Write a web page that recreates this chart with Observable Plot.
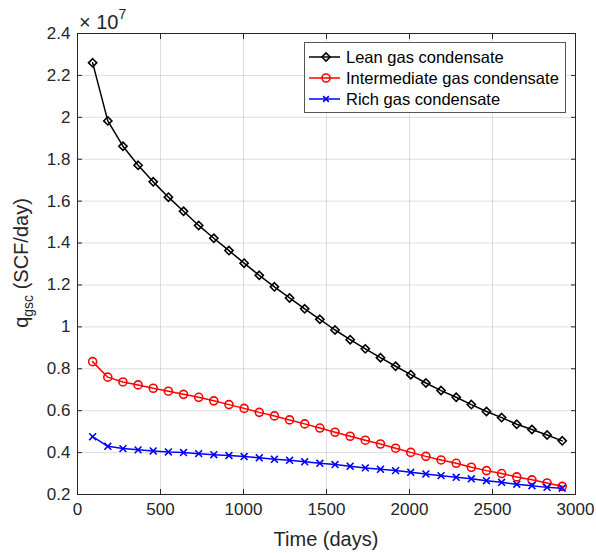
<!DOCTYPE html>
<html><head><meta charset="utf-8">
<script src="https://cdn.jsdelivr.net/npm/d3@7"></script>
<script src="https://cdn.jsdelivr.net/npm/@observablehq/plot@0.6"></script>
<style>
body{margin:0;background:#fff;}
#wrap{position:relative;width:596px;height:553px;font-family:"Liberation Sans",Arial,sans-serif;}
#wrap svg{display:block;}
#overlay{position:absolute;left:0;top:0;pointer-events:none;}
</style></head>
<body><div id="wrap"></div>
<script>
const days = [91.25,182.5,273.75,365,456.25,547.5,638.75,730,821.25,912.5,1003.75,1095,1186.25,1277.5,1368.75,1460,1551.25,1642.5,1733.75,1825,1916.25,2007.5,2098.75,2190,2281.25,2372.5,2463.75,2555,2646.25,2737.5,2828.75,2920];
// q_gsc in units of 1e7 SCF/day
const lean = [2.260,1.983,1.862,1.771,1.692,1.619,1.552,1.484,1.423,1.364,1.304,1.246,1.191,1.138,1.086,1.036,0.985,0.939,0.895,0.853,0.812,0.772,0.732,0.696,0.664,0.629,0.596,0.567,0.535,0.510,0.484,0.456];
const intermediate = [0.834,0.760,0.737,0.723,0.707,0.693,0.678,0.664,0.647,0.629,0.611,0.592,0.575,0.556,0.537,0.517,0.497,0.478,0.459,0.441,0.421,0.401,0.382,0.365,0.349,0.330,0.314,0.300,0.284,0.270,0.255,0.239];
const rich = [0.476,0.430,0.419,0.413,0.408,0.403,0.400,0.395,0.390,0.386,0.381,0.375,0.368,0.363,0.356,0.349,0.343,0.335,0.327,0.320,0.314,0.306,0.298,0.290,0.282,0.275,0.266,0.258,0.249,0.242,0.234,0.230];
const seriesNames = ["Lean gas condensate","Intermediate gas condensate","Rich gas condensate"];
const seriesColors = ["#000000","#ff0000","#0000ff"];
const seriesSymbols = ["diamond2","circle","times"];
const xTicks = [0,500,1000,1500,2000,2500,3000];
const yTicks = [0.2,0.4,0.6,0.8,1,1.2,1.4,1.6,1.8,2,2.2,2.4];
const xLabel = "Time (days)";
const yLabelMain = "q", yLabelSub = "gsc", yLabelRest = " (SCF/day)";
const exponent = "7";

const allSeries = [lean, intermediate, rich];
const rows = allSeries.flatMap((vals, i) => vals.map((v, j) => ({day: days[j], q: v, s: seriesNames[i]})));

const axisColor = "#262626";
const marks = [
  Plot.gridX(xTicks, {stroke: axisColor, strokeOpacity: 0.15}),
  Plot.gridY(yTicks, {stroke: axisColor, strokeOpacity: 0.15}),
];
const symSizes = [3.7, 4, 3.2];
seriesNames.forEach((name, i) => {
  const d = rows.filter(r => r.s === name);
  marks.push(Plot.line(d, {x: "day", y: "q", stroke: seriesColors[i], strokeWidth: 1.5}));
  marks.push(Plot.dot(d, {x: "day", y: "q", stroke: seriesColors[i], fill: "none", symbol: seriesSymbols[i], r: symSizes[i], strokeWidth: 1.6}));
});
marks.push(
  Plot.frame({stroke: axisColor}),
  Plot.axisX(xTicks, {anchor: "bottom", tickSize: 0, tickPadding: 8, label: null, tickFormat: d => String(d), fill: axisColor}),
  Plot.axisX(xTicks, {anchor: "bottom", tickSize: -5, label: null, tickFormat: () => "", stroke: axisColor}),
  Plot.axisX(xTicks, {anchor: "top", tickSize: -5, label: null, tickFormat: () => "", stroke: axisColor}),
  Plot.axisY(yTicks, {anchor: "left", tickSize: 0, tickPadding: 7, label: null, tickFormat: d => String(+d.toFixed(1)), fill: axisColor}),
  Plot.axisY(yTicks, {anchor: "left", tickSize: -5, label: null, tickFormat: () => "", stroke: axisColor}),
  Plot.axisY(yTicks, {anchor: "right", tickSize: -5, label: null, tickFormat: () => "", stroke: axisColor})
);

const chart = Plot.plot({
  width: 596, height: 553,
  marginLeft: 77, marginRight: 21, marginTop: 33, marginBottom: 59,
  style: {fontFamily: '"Liberation Sans", Arial, sans-serif', fontSize: "17px", background: "white", color: axisColor},
  x: {domain: [0, 3000]},
  y: {domain: [0.2, 2.4]},
  marks
});
const wrap = document.getElementById("wrap");
wrap.appendChild(chart);

// overlay: labels, exponent, legend
const ov = d3.select(wrap).append("svg").attr("id", "overlay").attr("width", 596).attr("height", 553)
  .style("font-family", '"Liberation Sans", Arial, sans-serif').attr("fill", axisColor);

ov.append("text").attr("x", 326).attr("y", 546).attr("text-anchor", "middle").style("font-size", "20px").text(xLabel);

const yl = ov.append("text").attr("transform", "translate(28,263) rotate(-90)").attr("text-anchor", "middle").style("font-size", "20px");
yl.append("tspan").text(yLabelMain);
yl.append("tspan").style("font-size", "14px").attr("dy", 5).text(yLabelSub);
yl.append("tspan").attr("dy", -5).text(yLabelRest);

const ex = ov.append("text").attr("x", 79).attr("y", 29).style("font-size", "20px");
ex.append("tspan").text("× 10");
ex.append("tspan").style("font-size", "14px").attr("dy", -10).text(exponent);

// legend
const lg = ov.append("g");
lg.append("rect").attr("x", 304.5).attr("y", 42.5).attr("width", 261).attr("height", 70)
  .attr("fill", "white").attr("stroke", "#555").attr("stroke-width", 1);
const rowY = [57, 78, 99];
seriesNames.forEach((name, i) => {
  lg.append("line").attr("x1", 309).attr("x2", 340).attr("y1", rowY[i]).attr("y2", rowY[i]).attr("stroke", seriesColors[i]).attr("stroke-width", 1.5);
  const sym = {diamond2: d3.symbolDiamond2, circle: d3.symbolCircle, times: d3.symbolTimes}[seriesSymbols[i]];
  lg.append("path").attr("d", d3.symbol(sym, Math.PI * symSizes[i] * symSizes[i] * (i === 2 ? 0.7 : 1))())
    .attr("transform", `translate(326,${rowY[i]})`).attr("fill", "none").attr("stroke", seriesColors[i]).attr("stroke-width", 1.6);
  lg.append("text").attr("x", 346).attr("y", rowY[i] + 6).style("font-size", "16.5px").attr("fill", "#000").text(name);
});
</script></body></html>
